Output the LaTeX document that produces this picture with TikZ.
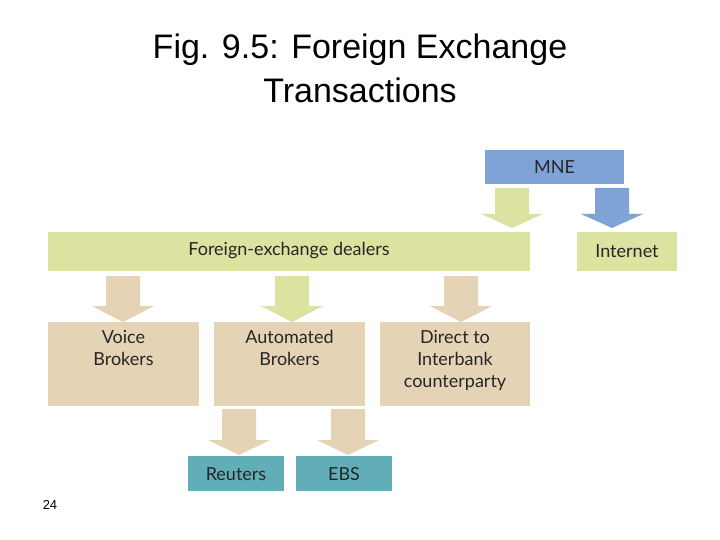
\documentclass[tikz,border=0pt]{standalone}
\usepackage{fontspec}
\setmainfont{Liberation Sans}
\newfontfamily\boxfont{Lato}
\definecolor{cblue}{HTML}{7FA3D6}
\definecolor{cgreen}{HTML}{DCE2A0}
\definecolor{ctan}{HTML}{E5D3B5}
\definecolor{cteal}{HTML}{62AEB8}
\begin{document}
\begin{tikzpicture}[x=1pt,y=-1pt,
  bx/.style={inner sep=0pt,align=center,font=\boxfont\fontsize{18}{22}\selectfont,text=black!85},
  ]
\useasboundingbox (0,0) rectangle (720,540);
\fill[white] (0,0) rectangle (720,540);
\node[font=\fontsize{34}{44}\selectfont,align=center] (title) at (360,68) {Fig. 9.5: Foreign Exchange\\Transactions};
\node[font=\fontsize{13}{15}\selectfont] (pg) at (50,505) {24};
% boxes
\fill[cblue] (485,150) rectangle (624,184);
\node[bx] (mne) at (554.5,167) {MNE};
\fill[cgreen] (48,232) rectangle (530,271);
\node[bx] (fx) at (289,251) {Foreign-exchange dealers};
\fill[cgreen] (577,232) rectangle (677,271);
\node[bx] (inet) at (627,251) {Internet};
\fill[ctan] (48,322) rectangle (199,406);
\node[bx,anchor=north] (voice) at (123.5,330) {Voice\\Brokers};
\fill[ctan] (214,322) rectangle (365,406);
\node[bx,anchor=north] (auto) at (289.5,330) {Automated\\Brokers};
\fill[ctan] (380,322) rectangle (530,406);
\node[bx,anchor=north] (direct) at (455,330) {Direct to\\Interbank\\counterparty};
\fill[cteal] (188,456) rectangle (284,491);
\node[bx] (reu) at (236,474) {Reuters};
\fill[cteal] (296,456) rectangle (392,491);
\node[bx] (ebs) at (344,474) {EBS};
% block arrows: \barrow{color}{cx}{top}{headbase}{tip}
\newcommand\barrow[5]{\fill[#1] (#2-17,#3) -- (#2+17,#3) -- (#2+17,#4) -- (#2+31,#4) -- (#2,#5) -- (#2-31,#4) -- (#2-17,#4) -- cycle;}
\barrow{cgreen}{512}{188}{214}{228}
\barrow{cblue}{612}{188}{214}{228}
\barrow{ctan}{123}{276}{306}{322}
\barrow{cgreen}{292}{276}{306}{322}
\barrow{ctan}{461}{276}{306}{322}
\barrow{ctan}{239}{409}{440}{455}
\barrow{ctan}{348}{409}{440}{455}
\end{tikzpicture}
\end{document}
